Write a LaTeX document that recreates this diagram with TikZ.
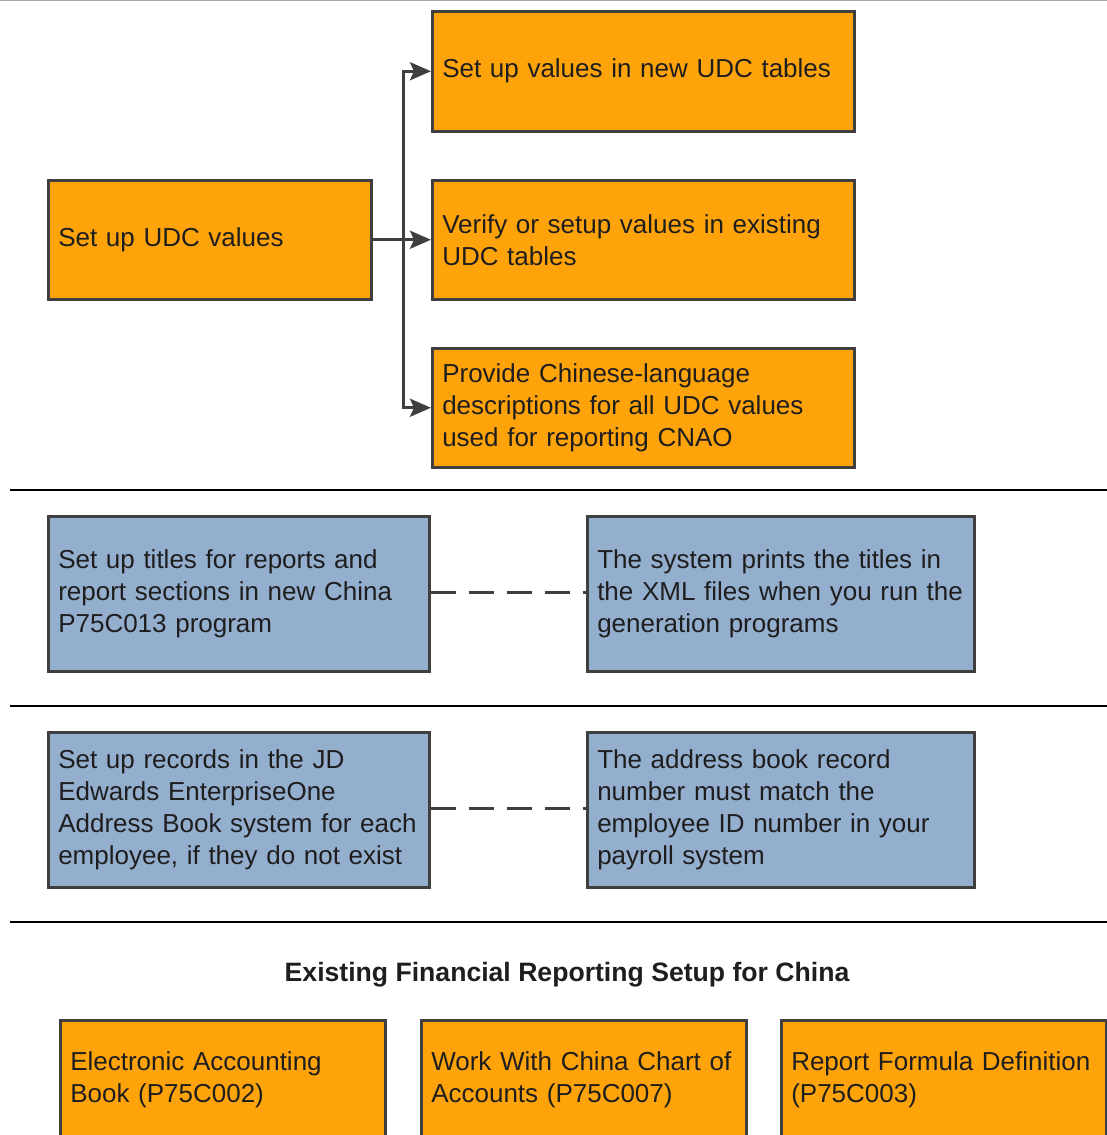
\documentclass[tikz,border=0pt]{standalone}
\usepackage{fontspec}
\setmainfont{Liberation Sans}
\usetikzlibrary{arrows.meta}
\definecolor{orng}{HTML}{FFA30A}
\definecolor{bluebox}{HTML}{94AECE}
\definecolor{edge}{HTML}{3F3F3F}
\definecolor{txt}{HTML}{1E1E1E}
\tikzset{
  base/.style={draw=edge, line width=2.5pt, inner xsep=10pt, inner ysep=0pt, align=left,
    text=txt, font=\fontsize{26}{32}\selectfont, anchor=north west},
  obox/.style={base, fill=orng},
  bbox/.style={base, fill=bluebox},
  arr/.style={draw=edge, line width=3pt, -{Stealth[length=21pt,width=18pt,inset=4pt]}},
  conn/.style={draw=edge, line width=3pt},
  dline/.style={draw=edge, line width=3pt, dash pattern=on 25pt off 13pt},
  rulel/.style={draw=black, line width=2.2pt},
}
\newcommand{\bx}[7]{% style, name, x1, y1, x2, y2, text
  \node[#1, minimum width=#5pt-#3pt, minimum height=#6pt-#4pt, text width=#5pt-#3pt-20pt] (#2) at (#3,#4) {#7};}
\begin{document}
\begin{tikzpicture}[x=1pt,y=-1pt]
\useasboundingbox[fill=white] (0,0) rectangle (1107,1135);
\draw[draw=gray!70, line width=1.5pt] (0,0.5) -- (1107,0.5);
% UDC section
\bx{obox}{udc}{47}{179}{370}{298}{Set up UDC values}
\bx{obox}{new}{431}{10}{853}{130}{Set up values in new UDC tables}
\bx{obox}{verify}{431}{179}{853}{298}{Verify or setup values in existing\\UDC tables}
\bx{obox}{provide}{431}{347}{853}{466}{Provide Chinese-language\\descriptions for all UDC values\\used for reporting CNAO}
\coordinate (j) at ([xshift=31pt]udc.east);
\draw[conn] (udc.east) -- (j);
\draw[arr] (j) |- (new.west);
\draw[arr] (j) -- (verify.west);
\draw[arr] (j) |- (provide.west);
\draw[rulel] (10,490) -- (1107,490);
% titles
\bx{bbox}{titles}{47}{515}{428}{670}{Set up titles for reports and\\report sections in new China\\P75C013 program}
\bx{bbox}{prints}{586}{515}{973}{670}{The system prints the titles in\\the XML files when you run the\\generation programs}
\draw[dline] (titles.east |- 0,592) -- (prints.west |- 0,592);
\draw[rulel] (10,706) -- (1107,706);
% address book
\bx{bbox}{records}{47}{731}{428}{886}{Set up records in the JD\\Edwards EnterpriseOne\\Address Book system for each\\employee, if they do not exist}
\bx{bbox}{addr}{586}{731}{973}{886}{The address book record\\number must match the\\employee ID number in your\\payroll system}
\draw[dline] (records.east |- 0,808) -- (addr.west |- 0,808);
\draw[rulel] (10,922) -- (1107,922);
% existing setup
\node[font=\bfseries\fontsize{26.6}{30}\selectfont, text=txt] (title) at (567,975) {Existing Financial Reporting Setup for China};
\bx{obox}{eab}{59}{1019}{384}{1139}{Electronic Accounting\\Book (P75C002)}
\bx{obox}{coa}{420}{1019}{745}{1139}{Work With China Chart of\\Accounts (P75C007)}
\bx{obox}{rfd}{780}{1019}{1105}{1139}{Report Formula Definition\\(P75C003)}
\end{tikzpicture}
\end{document}
